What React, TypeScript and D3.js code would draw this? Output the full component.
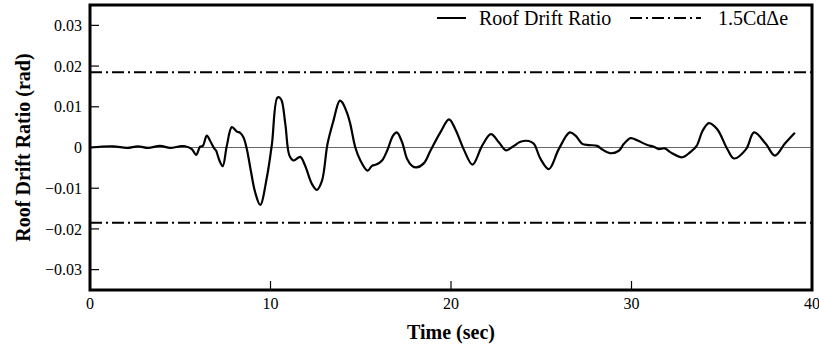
import * as d3 from "d3";
import React, { useRef, useEffect } from "react";

const mainWidth = 819;
const mainHeight = 350;
const margin = { top: 5, right: 7, bottom: 60, left: 90 };
const width = mainWidth - margin.left - margin.right;
const height = mainHeight - margin.top - margin.bottom;

// time history
const timeSec = [
  0, 1.28, 2.05, 2.66, 3.22, 3.88, 4.44, 4.99, 5.27, 5.64, 5.88, 6.1, 6.25, 6.47, 6.66, 6.88,
  6.99, 7.17, 7.35, 7.58, 7.86, 8.14, 8.32, 8.5, 8.69, 8.91, 9.15, 9.43, 9.8, 10.08, 10.39,
  10.58, 10.82, 11.05, 11.28, 11.65, 11.92, 12.3, 12.57, 12.85, 13.16, 13.49, 13.83, 13.96,
  14.24, 14.42, 14.7, 14.98, 15.38, 15.62, 15.86, 16.18, 16.46, 16.79, 17.0, 17.29, 17.57,
  17.84, 18.08, 18.49, 18.86, 19.41, 19.89, 20.24, 20.7, 21.19, 21.72, 22.21, 22.65, 23.05,
  23.48, 23.85, 24.31, 24.59, 24.96, 25.42, 25.97, 26.58, 26.9, 27.27, 27.64, 28.1, 28.38,
  28.8, 29.3, 29.58, 29.95, 30.34, 30.88, 31.24, 31.52, 31.84, 32.17, 32.82, 33.24, 33.61,
  33.94, 34.29, 34.75, 35.31, 35.68, 36.35, 36.79, 37.44, 37.94, 38.49, 39.05,
];
const driftRatio = [
  0, 0.0003, -0.0001, 0.0003, -0.0001, 0.0004, -0.0001, 0.0003, 0.0003, -0.0004, -0.0018,
  0.0002, 0.0004, 0.0029, 0.0016, -0.0002, -0.0008, -0.0032, -0.0046, 0.0004, 0.005, 0.0039,
  0.0036, 0.0025, -0.0004, -0.0057, -0.011, -0.0141, -0.0073, 0.0009, 0.0123, 0.0119, 0.0058,
  -0.002, -0.0032, -0.0023, -0.0045, -0.009, -0.0104, -0.0082, 0.0009, 0.0066, 0.0115,
  0.0112, 0.0085, 0.0058, 0.0, -0.0032, -0.0057, -0.0045, -0.0042, -0.0032, -0.0008, 0.0029,
  0.0037, 0.0013, -0.0028, -0.0045, -0.0049, -0.0039, -0.0008, 0.0037, 0.0069, 0.0045,
  -0.0004, -0.0042, 0.0004, 0.0033, 0.0013, -0.0007, 0.0004, 0.0014, 0.0016, 0.0009, -0.0028,
  -0.0053, -0.0004, 0.0037, 0.0029, 0.0009, 0.0006, 0.0004, -0.0005, -0.0014, -0.0008,
  0.0009, 0.0023, 0.0017, 0.0006, 0.0002, -0.0004, -0.0002, -0.0012, -0.0024, -0.0012,
  0.0004, 0.0041, 0.006, 0.0045, -0.0004, -0.0027, -0.0004, 0.0037, 0.0009, -0.002, 0.0009,
  0.0036,
];

const limitValue = 0.0185; // 1.5 Cd Δe
const xTicks = [0, 10, 20, 30, 40];
const yTicks = [0.03, 0.02, 0.01, 0, -0.01, -0.02, -0.03];
const seriesNames = ["Roof Drift Ratio", "1.5CdΔe"];

const font = "'Liberation Serif', 'Times New Roman', serif";
const dashDot = "12,4,2,4";

export default function App() {
  const ref = useRef<SVGSVGElement>(null);

  useEffect(() => {
    const svg = d3.select(ref.current);
    svg.selectAll("*").remove();

    const x = d3.scaleLinear().domain([0, 40]).range([0, width]);
    const y = d3.scaleLinear().domain([-0.035, 0.035]).range([height, 0]);

    const g = svg
      .append("g")
      .attr("transform", `translate(${margin.left},${margin.top})`);

    // zero line
    g.append("line")
      .attr("x1", 0)
      .attr("x2", width)
      .attr("y1", y(0))
      .attr("y2", y(0))
      .attr("stroke", "#666")
      .attr("stroke-width", 1);

    // limits
    [limitValue, -limitValue].forEach((v) => {
      g.append("line")
        .attr("x1", 0)
        .attr("x2", width)
        .attr("y1", y(v))
        .attr("y2", y(v))
        .attr("stroke", "#000")
        .attr("stroke-width", 2)
        .attr("stroke-dasharray", dashDot);
    });

    const pts = timeSec.map((t, i) => [t, driftRatio[i]] as [number, number]);
    const line = d3
      .line<[number, number]>()
      .x((d) => x(d[0]))
      .y((d) => y(d[1]))
      .curve(d3.curveCatmullRom.alpha(0.5));

    g.append("path")
      .attr("d", line(pts))
      .attr("fill", "none")
      .attr("stroke", "#000")
      .attr("stroke-width", 2.2)
      .attr("stroke-linejoin", "round");

    // y ticks (inward)
    yTicks.forEach((v) => {
      g.append("line")
        .attr("x1", 0)
        .attr("x2", 9)
        .attr("y1", y(v))
        .attr("y2", y(v))
        .attr("stroke", "#000")
        .attr("stroke-width", 1.2);
      g.append("text")
        .attr("x", -8)
        .attr("y", y(v))
        .attr("dy", "0.35em")
        .attr("text-anchor", "end")
        .attr("font-family", font)
        .attr("font-size", 16)
        .text(v === 0 ? "0" : d3.format(".2f")(v));
    });

    // x ticks (inward)
    xTicks.forEach((t) => {
      g.append("line")
        .attr("x1", x(t))
        .attr("x2", x(t))
        .attr("y1", height)
        .attr("y2", height - 9)
        .attr("stroke", "#000")
        .attr("stroke-width", 1.2);
      g.append("text")
        .attr("x", x(t))
        .attr("y", height + 19)
        .attr("text-anchor", "middle")
        .attr("font-family", font)
        .attr("font-size", 16)
        .text(t);
    });

    // frame
    g.append("rect")
      .attr("width", width)
      .attr("height", height)
      .attr("fill", "none")
      .attr("stroke", "#000")
      .attr("stroke-width", 3);

    // legend
    const legend = g.append("g");
    const ly = 13;
    legend
      .append("line")
      .attr("x1", 437 - margin.left)
      .attr("x2", 466 - margin.left)
      .attr("y1", ly)
      .attr("y2", ly)
      .attr("stroke", "#000")
      .attr("stroke-width", 2);
    legend
      .append("text")
      .attr("x", 479 - margin.left)
      .attr("y", ly)
      .attr("dy", "0.35em")
      .attr("font-family", font)
      .attr("font-size", 20)
      .text(seriesNames[0]);
    legend
      .append("line")
      .attr("x1", 630 - margin.left)
      .attr("x2", 701 - margin.left)
      .attr("y1", ly)
      .attr("y2", ly)
      .attr("stroke", "#000")
      .attr("stroke-width", 2)
      .attr("stroke-dasharray", dashDot);
    legend
      .append("text")
      .attr("x", 718 - margin.left)
      .attr("y", ly)
      .attr("dy", "0.35em")
      .attr("font-family", font)
      .attr("font-size", 20)
      .text(seriesNames[1]);

    // axis titles
    svg
      .append("text")
      .attr("x", margin.left + width / 2)
      .attr("y", 339)
      .attr("text-anchor", "middle")
      .attr("font-family", font)
      .attr("font-size", 20)
      .attr("font-weight", "bold")
      .text("Time (sec)");
    svg
      .append("text")
      .attr("transform", `translate(23,${margin.top + y(0)}) rotate(-90)`)
      .attr("dy", "0.35em")
      .attr("text-anchor", "middle")
      .attr("font-family", font)
      .attr("font-size", 20)
      .attr("font-weight", "bold")
      .text("Roof Drift Ratio (rad)");
  }, []);

  return (
    <svg
      ref={ref}
      width={mainWidth}
      height={mainHeight}
      style={{ position: "absolute", left: 0, top: 0, background: "#fff" }}
    />
  );
}
